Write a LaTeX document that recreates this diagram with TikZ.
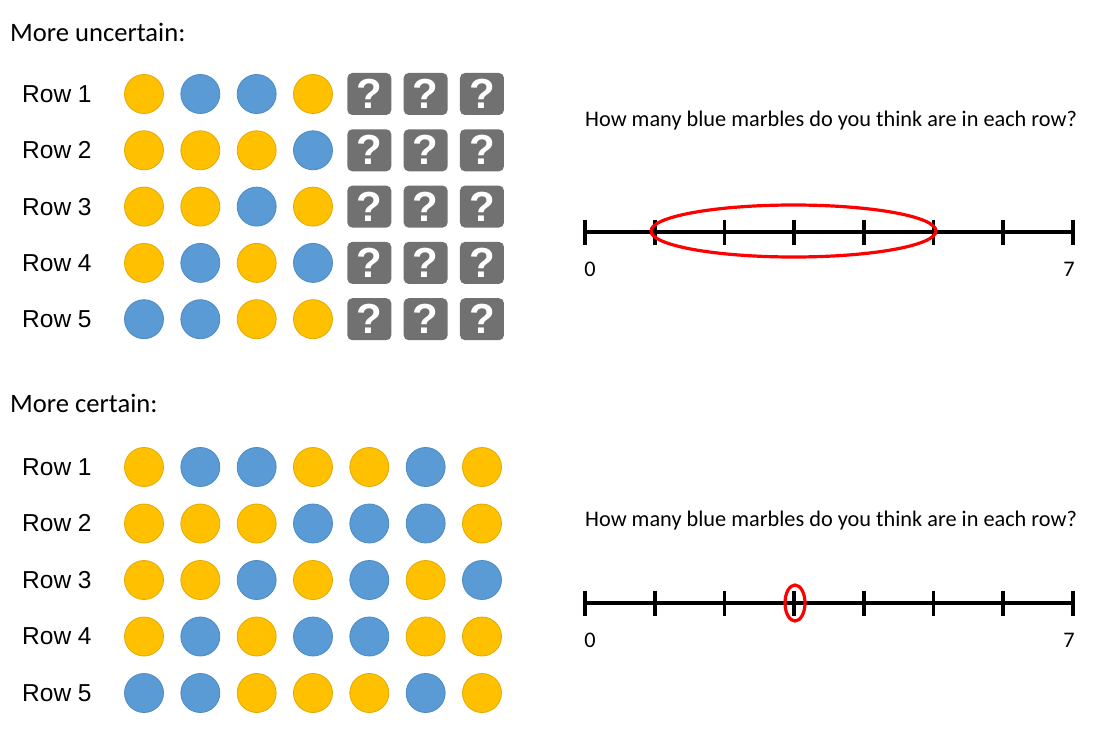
\documentclass[tikz,border=0pt]{standalone}
\usepackage{fontspec}
\setmainfont{Carlito}
\newfontfamily\arialfont{Liberation Sans}

\definecolor{marbley}{HTML}{FFC000}
\definecolor{rimy}{HTML}{E2AA00}
\definecolor{marbleb}{HTML}{5B9BD5}
\definecolor{rimb}{HTML}{4C8AC3}
\definecolor{qgray}{HTML}{717171}

\tikzset{
	marble/.style={circle, fill=marble#1, draw=rim#1, line width=0.8pt, minimum size=39pt, inner sep=0pt},
	qbox/.style={rounded corners=5pt, fill=qgray, minimum width=44pt, minimum height=42pt, inner sep=0pt, text=white, font=\arialfont\bfseries\fontsize{42}{44}\selectfont},
	rowlabel/.style={anchor=west, inner sep=0pt, font=\arialfont\fontsize{24.5}{28}\selectfont},
	heading/.style={anchor=base west, inner sep=0pt, font=\fontsize{26.6}{30}\selectfont},
	question/.style={anchor=base west, inner sep=0pt, font=\fontsize{22.3}{26}\selectfont},
	endlabel/.style={inner sep=0pt, font=\fontsize{22.3}{26}\selectfont},
	axis/.style={line width=3.6pt},
	guess/.style={draw=red, line width=3.2pt},
}

\begin{document}
\begin{tikzpicture}[x=1pt, y=-1pt]
	\useasboundingbox (0,0) rectangle (1100,741);
	
	% more uncertain
	\node[heading] (uncertain) at (10,42) {More uncertain:};
	\foreach \r/\cols in {1/{y,b,b,y}, 2/{y,y,y,b}, 3/{y,y,b,y}, 4/{y,b,y,b}, 5/{b,b,y,y}} {
		\node[rowlabel] (toprow\r) at (22,{94+56.3*(\r-1)}) {Row \r};
		\foreach \c [count=\k] in \cols
			\node[marble=\c] (top-\r-\k) at ({144+56.33*(\k-1)},{94+56.3*(\r-1)}) {};
		\foreach \k in {5,6,7}
			\node[qbox] (top-\r-\k) at ({144+56.33*(\k-1)},{94+56.3*(\r-1)}) {?};
	}
	
	\node[question] (topq) at (585,127) {How many blue marbles do you think are in each row?};
	\draw[axis] (585,232) -- (1073,232);
	\foreach \t in {0,...,7}
		\draw[axis] ({585+69.71*\t},219.5) -- ++(0,25);
	\draw[guess] (793.5,231) ellipse [x radius=142.5pt, y radius=26pt];
	\node[endlabel] (topzero) at (590,269) {0};
	\node[endlabel] (topseven) at (1069,269) {7};
	
	% more certain
	\node[heading] (certain) at (10,412) {More certain:};
	\foreach \r/\cols in {1/{y,b,b,y,y,b,y}, 2/{y,y,y,b,b,b,y}, 3/{y,y,b,y,b,y,b}, 4/{y,b,y,b,b,y,y}, 5/{b,b,y,y,y,b,y}} {
		\node[rowlabel] (botrow\r) at (22,{467+56.5*(\r-1)}) {Row \r};
		\foreach \c [count=\k] in \cols
			\node[marble=\c] (bot-\r-\k) at ({144+56.33*(\k-1)},{467+56.5*(\r-1)}) {};
	}
	
	\node[question] (botq) at (585,526) {How many blue marbles do you think are in each row?};
	\draw[axis] (585,603) -- (1073,603);
	\foreach \t in {0,...,7}
		\draw[axis] ({585+69.71*\t},590.5) -- ++(0,25);
	\draw[guess] (795,603) ellipse [x radius=10pt, y radius=18pt];
	\node[endlabel] (botzero) at (590,640) {0};
	\node[endlabel] (botseven) at (1069,640) {7};
\end{tikzpicture}
\end{document}
